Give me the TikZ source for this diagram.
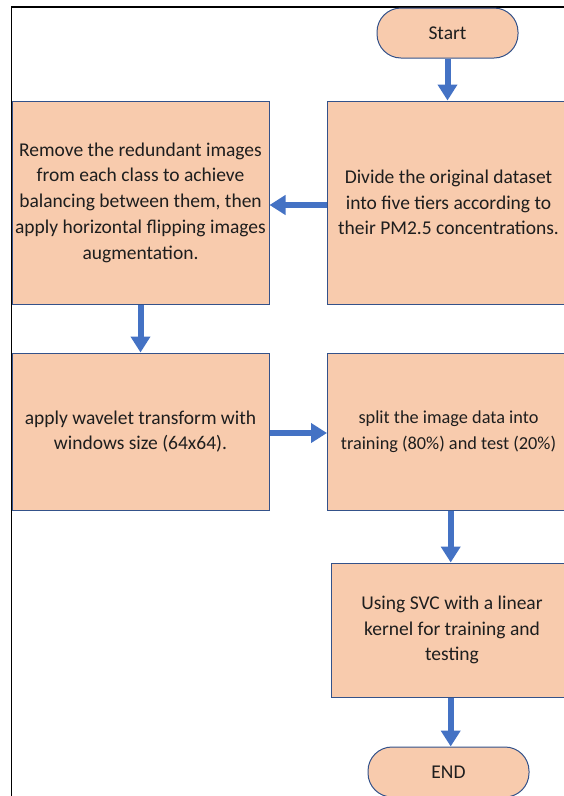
\documentclass[tikz,border=0pt]{standalone}
\usepackage{fontspec}
\setmainfont{Carlito}
\usetikzlibrary{arrows.meta}
\definecolor{boxfill}{HTML}{F8CBAD}
\definecolor{boxline}{HTML}{34528A}
\definecolor{arrowblue}{HTML}{4472C4}
\definecolor{txt}{HTML}{1E1E1E}
\tikzset{
  procbox/.style={draw=boxline, fill=boxfill, line width=1pt, inner sep=0pt,
    align=center, text=txt, font=\fontsize{19.5}{25.8}\selectfont},
  pill/.style={procbox, rounded corners=24pt, minimum height=50pt},
  flowarrow/.style={draw=arrowblue, line width=6pt,
    -{Triangle[width=19pt,length=16pt]}},
}
\begin{document}
\begin{tikzpicture}[x=1pt,y=-1pt]
\useasboundingbox (0,0) rectangle (563,796);
% outer frame
\draw[line width=1.2pt, black] (11.3,800) -- (11.3,7) -- (570,7);
% nodes
\node[pill, minimum width=141pt] (start) at (447.5,33) {Start};
\node[procbox, minimum width=257pt, minimum height=203pt] (remove) at (140.5,202.5)
  {Remove the redundant images\\from each class to achieve\\balancing between them, then\\apply horizontal flipping images\\augmentation.};
\node[procbox, minimum width=243pt, minimum height=203pt] (divide) at (448.5,202.5)
  {Divide the original dataset\\into five tiers according to\\their PM2.5 concentrations.};
\node[procbox, minimum width=257pt, minimum height=157pt] (wavelet) at (140.5,431.5)
  {apply wavelet transform with\\windows size (64x64).};
\node[procbox, minimum width=242pt, minimum height=157pt,
  font=\fontsize{18.3}{25.8}\selectfont] (split) at (448.5,431.5)
  {split the image data into\\training (80\%) and test (20\%)};
\node[procbox, minimum width=242pt, minimum height=134pt] (svc) at (452,630)
  {Using SVC with a linear\\kernel for training and\\testing};
\node[pill, minimum width=161pt] (end) at (448.5,772) {END};
% connectors
\draw[flowarrow] (start.south) -- (divide.north -| start.south);
\draw[flowarrow] ([yshift=-2.5pt]divide.west) -- ([yshift=-2.5pt]remove.east);
\draw[flowarrow] (remove.south) -- (wavelet.north);
\draw[flowarrow] ([yshift=-1.5pt]wavelet.east) -- ([yshift=-1.5pt]split.west);
\draw[flowarrow] (split.south -| 450.7,0) -- (svc.north -| 450.7,0);
\draw[flowarrow] (svc.south -| 450.7,0) -- (end.north -| 450.7,0);
\end{tikzpicture}
\end{document}
